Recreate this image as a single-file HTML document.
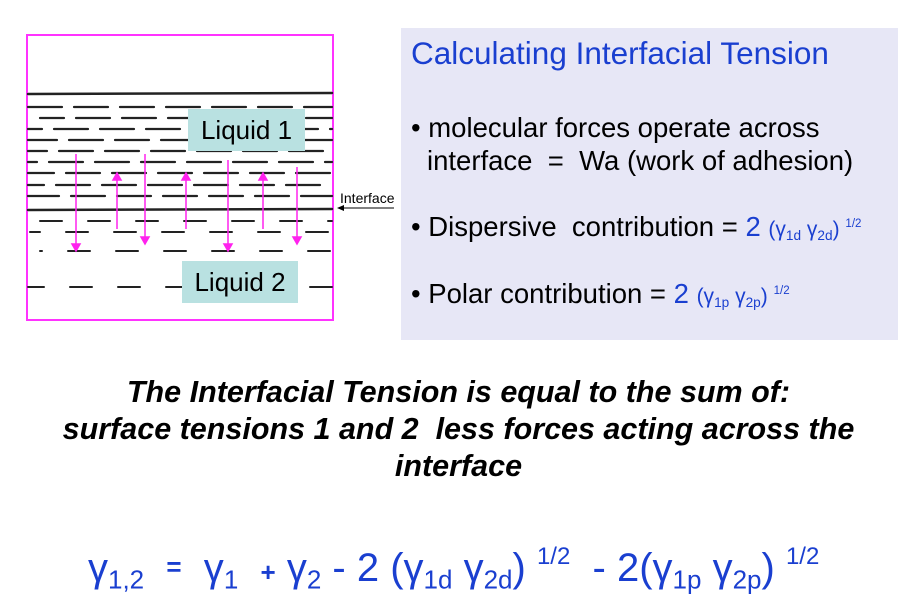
<!DOCTYPE html>
<html><head><meta charset="utf-8"><style>
body{margin:0;width:917px;height:615px;background:#fff;position:relative;overflow:hidden;font-family:"Liberation Sans",Arial,sans-serif}
.a{position:absolute;white-space:nowrap}
.blue{color:#1a3fd0}
.lbl{position:absolute;background:#b9e1e1;font-size:26px;color:#000;text-align:center}
.it{font-weight:bold;font-style:italic;font-size:30.5px;text-align:center;width:917px;left:0}
sub{font-size:65%;vertical-align:-0.3em}
sup{font-size:55%;vertical-align:0.8em}
</style></head><body>
<svg class="a" style="left:0;top:0" width="917" height="340">
<rect x="27" y="35" width="306" height="285" fill="#fff" stroke="#ff33ff" stroke-width="2"/>
<g stroke="#222" stroke-linecap="round">
<line x1="28" y1="94" x2="332" y2="93" stroke-width="2.5"/>
<line x1="28" y1="210" x2="332" y2="209" stroke-width="2.5"/>
<g stroke-width="2.2" stroke-dasharray="34 12">
<line x1="28" y1="107" x2="332" y2="107"/>
<line x1="40" y1="118" x2="332" y2="118" stroke-dashoffset="10"/>
<line x1="28" y1="129" x2="332" y2="129" stroke-dashoffset="20"/>
<line x1="28" y1="140" x2="332" y2="140" stroke-dashoffset="5"/>
<line x1="28" y1="151" x2="332" y2="151" stroke-dashoffset="15"/>
<line x1="28" y1="162" x2="332" y2="162" stroke-dashoffset="25"/>
<line x1="28" y1="173" x2="332" y2="173" stroke-dashoffset="8"/>
<line x1="28" y1="185" x2="332" y2="185" stroke-dashoffset="18"/>
<line x1="28" y1="196" x2="332" y2="196" stroke-dashoffset="3"/>
</g>
<g stroke-width="2" stroke-dasharray="22 26">
<line x1="40" y1="221" x2="332" y2="221"/>
<line x1="30" y1="232" x2="332" y2="232" stroke-dashoffset="12"/>
<line x1="40" y1="251" x2="332" y2="251" stroke-dashoffset="20"/>
<line x1="28" y1="287" x2="332" y2="287" stroke-dashoffset="6"/>
</g>
</g>
<g stroke="#ff22ee" stroke-width="1.5" fill="#ff22ee">
<line x1="76" y1="154" x2="76" y2="246"/><polygon points="72,244 80,244 76,251"/>
<line x1="145" y1="154" x2="145" y2="239"/><polygon points="141,237 149,237 145,244"/>
<line x1="228" y1="160" x2="228" y2="246"/><polygon points="224,244 232,244 228,251"/>
<line x1="297" y1="167" x2="297" y2="239"/><polygon points="293,237 301,237 297,244"/>
<line x1="117" y1="229" x2="117" y2="178"/><polygon points="113,180 121,180 117,173"/>
<line x1="186" y1="229" x2="186" y2="178"/><polygon points="182,180 190,180 186,173"/>
<line x1="263" y1="229" x2="263" y2="178"/><polygon points="259,180 267,180 263,173"/>
</g>
<line x1="342" y1="208" x2="394" y2="208" stroke="#000" stroke-width="1"/>
<polygon points="337,208 344,205 344,211" fill="#000"/>
<rect x="401" y="28" width="497" height="316" fill="#e7e7f6"/>
</svg>
<div class="lbl" style="left:188px;top:109px;width:117px;height:42px;line-height:42px">Liquid 1</div>
<div class="lbl" style="left:182px;top:261px;width:116px;height:42px;line-height:42px">Liquid 2</div>
<div class="a" style="left:340px;top:190px;font-size:14px">Interface</div>
<div class="a blue" style="left:411px;top:35px;font-size:31.5px">Calculating Interfacial Tension</div>
<div class="a" style="left:411px;top:112px;font-size:27.5px">• molecular forces operate across</div>
<div class="a" style="left:427px;top:145px;font-size:27.5px">interface&nbsp; = &nbsp;Wa (work of adhesion)</div>
<div class="a" style="left:411px;top:211px;font-size:27.5px">• Dispersive&nbsp; contribution = <span class="blue">2 <span style="font-size:21px">(γ<sub>1d</sub> γ<sub>2d</sub>) <sup>1/2</sup></span></span></div>
<div class="a" style="left:411px;top:278px;font-size:27.5px">• Polar contribution = <span class="blue">2 <span style="font-size:21px">(γ<sub>1p</sub> γ<sub>2p</sub>) <sup>1/2</sup></span></span></div>
<div class="a it" style="top:375px">The Interfacial Tension is equal to the sum of:</div>
<div class="a it" style="top:412px">surface tensions 1 and 2&nbsp; less forces acting across the</div>
<div class="a it" style="top:449px">interface</div>
<div class="a blue" style="left:88px;top:543px;font-size:40px">γ<sub>1,2</sub> &nbsp;<span style="font-size:26px;vertical-align:0.2em;font-weight:bold">=</span>&nbsp; γ<sub>1</sub> &nbsp;<span style="font-size:26px;font-weight:bold">+</span> γ<sub>2</sub> - 2 (γ<sub>1d</sub> γ<sub>2d</sub>) <sup style="font-size:24px;vertical-align:0.7em">1/2</sup> &nbsp;- 2(γ<sub>1p</sub> γ<sub>2p</sub>) <sup style="font-size:24px;vertical-align:0.7em">1/2</sup></div>
</body></html>
